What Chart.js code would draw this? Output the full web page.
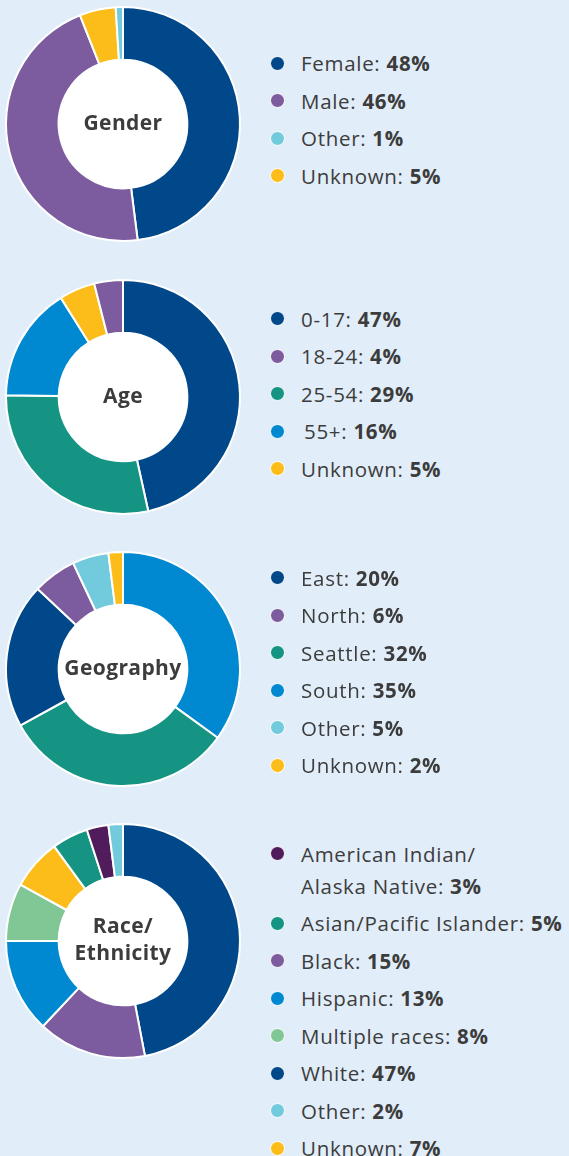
<!DOCTYPE html>
<html>
<head>
<meta charset="utf-8">
<script src="https://cdn.jsdelivr.net/npm/chart.js@4/dist/chart.umd.min.js"></script>
<style>
  html, body { margin: 0; padding: 0; background: #e1edf8; }
  body { width: 569px; height: 1156px; position: relative; overflow: hidden; font-family: "Open Sans", Lato, sans-serif; color: #3c3c3c; }
  .chartbox { position: absolute; left: 3px; width: 240px; height: 240px; }
  .chartbox canvas { position: absolute; left: 0; top: 0; }
  .center { position: absolute; left: 0; top: -2px; width: 240px; height: 240px; display: flex; align-items: center; justify-content: center; text-align: center; font-weight: 700; font-size: 21px; letter-spacing: 0.4px; line-height: 27px; color: #3c3c3c; pointer-events: none; }
  .legend { position: absolute; left: 270px; }
  .item { position: relative; padding: 2.75px 0 2.75px 31px; line-height: 32px; font-size: 20.5px; letter-spacing: 0.7px; white-space: nowrap; }
  .dot { position: absolute; left: 0; top: 11px; width: 13px; height: 13px; border-radius: 50%; border: 1.5px solid #fff; }
  .item b { font-weight: 700; }
</style>
</head>
<body>
<script>
// ---- Data ----
const genderLabels = ["Female", "Male", "Unknown", "Other"];
const genderValues = [48, 46, 5, 1];
const genderLegendOrder = ["Female", "Male", "Other", "Unknown"];

const ageLabels = ["0-17", "25-54", "55+", "Unknown", "18-24"];
const ageValues = [47, 29, 16, 5, 4];
const ageLegendOrder = ["0-17", "18-24", "25-54", "55+", "Unknown"];

const geoLabels = ["South", "Seattle", "East", "North", "Other", "Unknown"];
const geoValues = [35, 32, 20, 6, 5, 2];
const geoLegendOrder = ["East", "North", "Seattle", "South", "Other", "Unknown"];

const raceLabels = ["White", "Black", "Hispanic", "Multiple races", "Unknown", "Asian/Pacific Islander", "American Indian/\nAlaska Native", "Other"];
const raceValues = [47, 15, 13, 8, 7, 5, 3, 2];
const raceLegendOrder = ["American Indian/\nAlaska Native", "Asian/Pacific Islander", "Black", "Hispanic", "Multiple races", "White", "Other", "Unknown"];

// ---- Styles ----
const C = {
  navy: "#00488a", purple: "#7d5b9f", lightblue: "#72cbdd", yellow: "#fcbd1b",
  teal: "#159483", blue: "#0089d1", green: "#80c795", darkpurple: "#501c5c"
};
const genderColors = [C.navy, C.purple, C.yellow, C.lightblue];
const ageColors = [C.navy, C.teal, C.blue, C.yellow, C.purple];
const geoColors = [C.blue, C.teal, C.navy, C.purple, C.lightblue, C.yellow];
const raceColors = [C.navy, C.purple, C.blue, C.green, C.yellow, C.teal, C.darkpurple, C.lightblue];

const whiteHole = {
  id: "whiteHole",
  beforeDatasetsDraw(chart) {
    const meta = chart.getDatasetMeta(0);
    const arc = meta.data[0];
    if (!arc) return;
    const ctx = chart.ctx;
    ctx.save();
    ctx.beginPath();
    ctx.arc(arc.x, arc.y, arc.innerRadius + 1, 0, Math.PI * 2);
    ctx.fillStyle = "#ffffff";
    ctx.fill();
    ctx.restore();
  }
};

function makeGroup(top, legendTop, title, labels, values, colors, legendOrder) {
  const box = document.createElement("div");
  box.className = "chartbox";
  box.style.top = top + "px";
  const cv = document.createElement("canvas");
  cv.width = 240; cv.height = 240;
  cv.style.width = "240px"; cv.style.height = "240px";
  box.appendChild(cv);
  const ctr = document.createElement("div");
  ctr.className = "center";
  ctr.innerHTML = title;
  box.appendChild(ctr);
  document.body.appendChild(box);

  new Chart(cv, {
    type: "doughnut",
    data: { labels: labels, datasets: [{ data: values, backgroundColor: colors, borderColor: "#ffffff", borderWidth: 2, hoverOffset: 0 }] },
    options: {
      responsive: false, animation: false, cutout: "55%", radius: 117,
      layout: { padding: 0 },
      plugins: { legend: { display: false }, tooltip: { enabled: false } },
      events: []
    },
    plugins: [whiteHole]
  });

  const lg = document.createElement("div");
  lg.className = "legend";
  lg.style.top = legendTop + "px";
  legendOrder.forEach(name => {
    const i = labels.indexOf(name);
    const it = document.createElement("div");
    it.className = "item";
    const dot = document.createElement("span");
    dot.className = "dot";
    dot.style.background = colors[i];
    it.appendChild(dot);
    const txt = document.createElement("span");
    if (name === "55+") txt.style.paddingLeft = "3px";
    txt.innerHTML = name.replace("\n", "<br>") + ": <b>" + values[i] + "%</b>";
    it.appendChild(txt);
    lg.appendChild(it);
  });
  document.body.appendChild(lg);
}

makeGroup(4, 44.5, "Gender", genderLabels, genderValues, genderColors, genderLegendOrder);
makeGroup(277, 300, "Age", ageLabels, ageValues, ageColors, ageLegendOrder);
makeGroup(549, 559, "Geography", geoLabels, geoValues, geoColors, geoLegendOrder);
makeGroup(821, 835, "Race/<br>Ethnicity", raceLabels, raceValues, raceColors, raceLegendOrder);
</script>
</body>
</html>
